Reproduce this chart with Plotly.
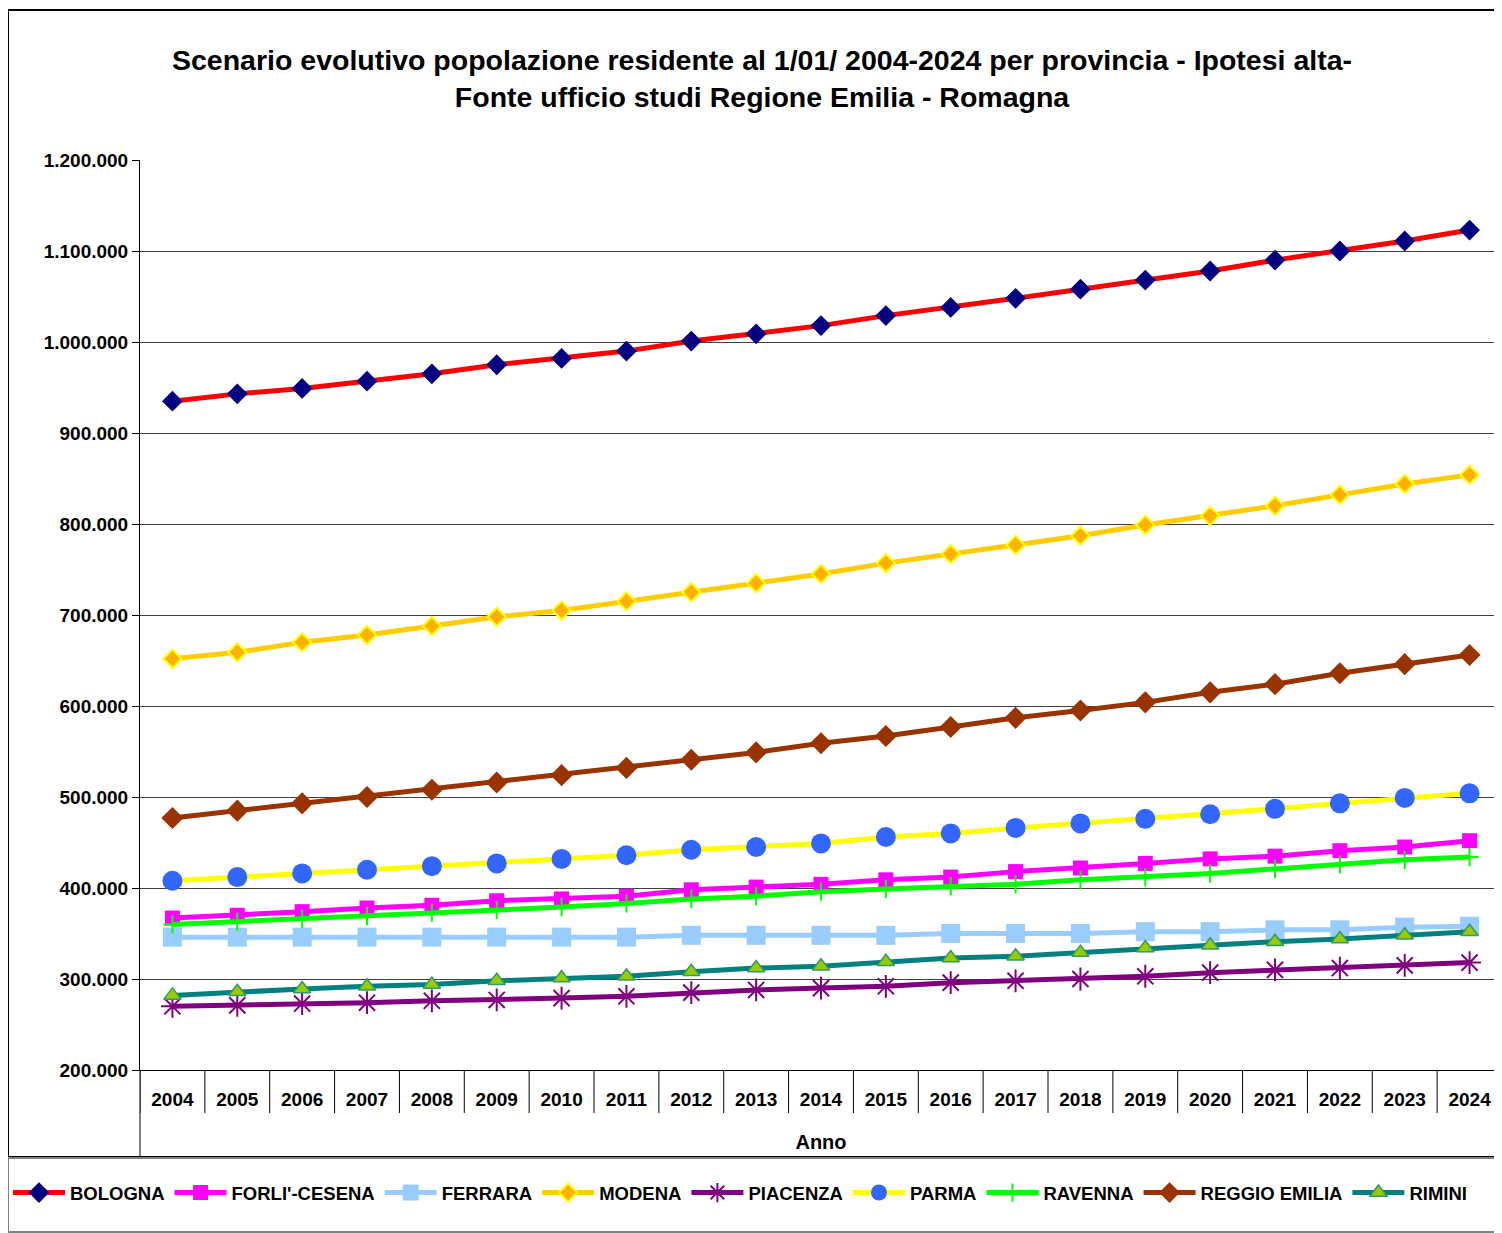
import plotly.graph_objects as go

years = [str(y) for y in range(2004, 2025)]

bologna = [935000, 943000, 949000, 957000, 965000, 975000, 982000, 990000, 1001000, 1009000, 1018000,
           1029000, 1038000, 1048000, 1058000, 1068000, 1078000, 1090000, 1100000, 1111000, 1123000]
forli_cesena = [367000, 370000, 374000, 378000, 381000, 386000, 388000, 391000, 398000, 401000, 404000,
                409000, 412000, 418000, 422000, 427000, 432000, 435000, 441000, 445000, 452000]
ferrara = [346000, 346000, 346000, 346000, 346000, 346000, 346000, 346000, 348000, 348000, 348000,
           348000, 350000, 350000, 350000, 352000, 352000, 354000, 354000, 357000, 358000]
modena = [652000, 659000, 670000, 678000, 688000, 698000, 705000, 715000, 725000, 735000, 745000,
          757000, 767000, 777000, 787000, 799000, 809000, 820000, 832000, 844000, 854000]
piacenza = [270000, 271000, 273000, 274000, 276000, 277000, 279000, 281000, 285000, 288000, 290000,
            292000, 296000, 298000, 300000, 303000, 307000, 310000, 312000, 315000, 318000]
parma = [408000, 412000, 416000, 420000, 424000, 427000, 432000, 436000, 442000, 445000, 449000,
         456000, 460000, 466000, 471000, 476000, 481000, 487000, 493000, 499000, 504000]
ravenna = [360000, 363000, 366000, 369000, 373000, 376000, 379000, 383000, 388000, 391000, 396000,
           399000, 402000, 404000, 409000, 412000, 416000, 421000, 426000, 431000, 434000]
reggio_emilia = [477000, 485000, 493000, 500000, 508000, 516000, 524000, 532000, 541000, 549000, 559000,
                 567000, 577000, 587000, 595000, 604000, 615000, 624000, 636000, 646000, 656000]
rimini = [282000, 286000, 289000, 292000, 294000, 298000, 301000, 303000, 308000, 312000, 314000,
          319000, 323000, 325000, 329000, 334000, 337000, 341000, 344000, 348000, 352000]

FONT = "Liberation Sans, Arial, sans-serif"

series = [
    ("BOLOGNA", bologna, "#FF0000", dict(symbol="diamond", size=16, color="#000080")),
    ("FORLI'-CESENA", forli_cesena, "#FF00FF", dict(symbol="square", size=15, color="#FF00FF")),
    ("FERRARA", ferrara, "#99CCFF", dict(symbol="square", size=19, color="#99CCFF")),
    ("MODENA", modena, "#FFCC00", dict(symbol="diamond", size=14, color="#FFB000",
                                        line=dict(color="#FFFF00", width=2))),
    ("PIACENZA", piacenza, "#800080", dict(symbol="asterisk-open", size=19,
                                            line=dict(color="#800080", width=2))),
    ("PARMA", parma, "#FFFF00", dict(symbol="circle", size=20, color="#3366FF")),
    ("RAVENNA", ravenna, "#00FF00", dict(symbol="cross-thin-open", size=13,
                                          line=dict(color="#008080", width=2))),
    ("REGGIO EMILIA", reggio_emilia, "#993300", dict(symbol="diamond", size=17, color="#993300")),
    ("RIMINI", rimini, "#008080", dict(symbol="triangle-up", size=15, color="#99CC00",
                                        line=dict(color="#339966", width=1.5))),
]

fig = go.Figure()

for name, values, line_color, marker in series:
    fig.add_trace(
        go.Scatter(
            x=years,
            y=values,
            name=name,
            mode="lines+markers",
            line=dict(color=line_color, width=5),
            marker=marker,
        )
    )

# page has an 8px body margin; positions below are in screen pixels
OFF = 8
W, H = 1502 - OFF, 1233 - OFF
PLOT_L, PLOT_T, PLOT_B, PLOT_R = 140, 160, 1070, 1502
PH = PLOT_B - PLOT_T
PW = PLOT_R - PLOT_L

def py(y):
    return (PLOT_B - y) / PH

def px(x):
    return (x - PLOT_L) / PW

shapes = [
    # outer frame of the chart
    dict(type="rect", xref="paper", yref="paper", x0=px(8), x1=px(1520), y0=py(1157), y1=py(10),
         line=dict(color="black", width=2), layer="below"),
    # legend box
    dict(type="rect", xref="paper", yref="paper", x0=px(8), x1=px(1500), y0=py(1232), y1=py(1158),
         line=dict(color="#808080", width=2), layer="below"),
    # y axis continued under the category labels
    dict(type="line", xref="paper", yref="paper", x0=0, x1=0, y0=py(1157), y1=0,
         line=dict(color="black", width=1)),
]
# separators between the year labels
for i in range(len(years) + 1):
    shapes.append(dict(type="line", xref="x", yref="paper", x0=i - 0.5, x1=i - 0.5,
                       y0=py(1113), y1=0, line=dict(color="black", width=1)))

fig.update_layout(
    width=W,
    height=H,
    margin=dict(l=PLOT_L - OFF, r=0, t=PLOT_T - OFF, b=H - (PLOT_B - OFF)),
    paper_bgcolor="white",
    plot_bgcolor="white",
    separators=",.",
    font=dict(family=FONT, color="black"),
    title=dict(
        text="<b>Scenario evolutivo popolazione residente al 1/01/ 2004-2024 per provincia - Ipotesi alta-<br>"
             "Fonte ufficio studi Regione Emilia - Romagna</b>",
        x=(762 - OFF) / W, xanchor="center",
        y=1 - 62 / H, yanchor="top",
        font=dict(size=28.5, family=FONT),
    ),
    xaxis=dict(
        type="category",
        range=[-0.5, len(years) - 0.5],
        showgrid=False,
        showline=True,
        linecolor="black",
        ticks="",
        ticklabelstandoff=12,
        tickfont=dict(size=19, weight="bold"),
        title=dict(text="<b>Anno</b>", font=dict(size=20), standoff=26),
    ),
    yaxis=dict(
        range=[200000, 1200000],
        dtick=100000,
        tickformat=",d",
        showgrid=True,
        gridcolor="#404040",
        gridwidth=1,
        showline=True,
        linecolor="black",
        ticks="outside",
        ticklen=7,
        tickcolor="black",
        tickfont=dict(size=19, weight="bold"),
        zeroline=False,
    ),
    legend=dict(
        orientation="h",
        x=px(8), xanchor="left",
        y=py(1193), yanchor="middle",
        font=dict(size=18.5, weight="bold"),
        itemwidth=52,
        bgcolor="rgba(0,0,0,0)",
        tracegroupgap=0,
    ),
    shapes=shapes,
)

fig.write_html("out.html")
